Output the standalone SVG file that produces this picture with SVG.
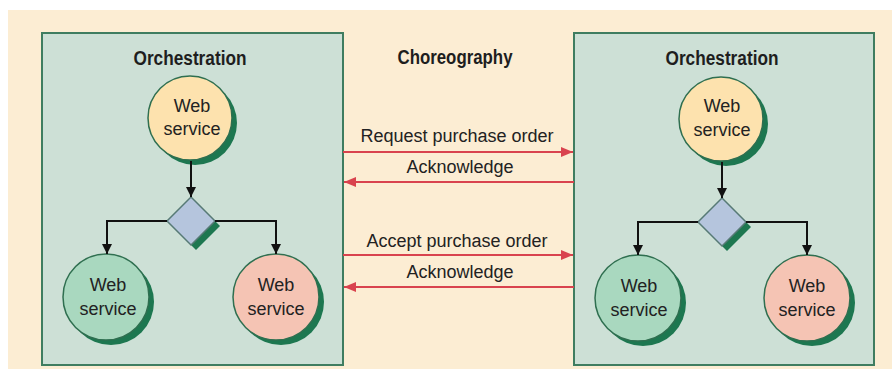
<svg xmlns="http://www.w3.org/2000/svg" width="892" height="372" viewBox="0 0 892 372">
  <defs>
    <marker id="ah" viewBox="0 0 10 10" refX="10" refY="5" markerWidth="10" markerHeight="10" markerUnits="userSpaceOnUse" orient="auto">
      <path d="M0,0 L10,5 L0,10 z" fill="#111"/>
    </marker>
    <marker id="rh" viewBox="0 0 12 10" refX="12" refY="5" markerWidth="12" markerHeight="10" markerUnits="userSpaceOnUse" orient="auto">
      <path d="M0,0 L12,5 L0,10 z" fill="#d9434e"/>
    </marker>
  </defs>
  <style>
    .bg { fill: #fcedd3; }
    .box { fill: #cde0d6; stroke: #3f7d60; stroke-width: 2; }
    .title { font-family: "Liberation Sans", Arial, sans-serif; font-weight: bold; font-size: 20px; fill: #1e1e1e; text-anchor: middle; }
    .lbl { font-family: "Liberation Sans", Arial, sans-serif; font-size: 18px; fill: #222; text-anchor: middle; }
    .shadow { fill: #1d7750; }
    .ring { stroke: #2f6f50; stroke-width: 1.5; }
    .yel { fill: #fde2ae; }
    .grn { fill: #a9d8bf; }
    .pnk { fill: #f5c4b4; }
    .dia { fill: #b5c5dd; stroke: #577a76; stroke-width: 1.5; }
    .blk { fill: none; stroke: #111; stroke-width: 2; }
    .red { fill: none; stroke: #d9434e; stroke-width: 2.2; }
  </style>

  <rect class="bg" x="8" y="10" width="884" height="359"/>

  <g id="left-box">
    <rect class="box" x="42" y="33" width="301" height="332"/>
    <text class="title" x="190" y="65" textLength="113" lengthAdjust="spacingAndGlyphs">Orchestration</text>
  </g>
  <g id="right-box">
    <rect class="box" x="574" y="33" width="300" height="332"/>
    <text class="title" x="722" y="65" textLength="113" lengthAdjust="spacingAndGlyphs">Orchestration</text>
  </g>

  <text class="title" x="455" y="64" textLength="115" lengthAdjust="spacingAndGlyphs">Choreography</text>

  <!-- Left orchestration nodes -->
  <g id="l-ws-top">
    <circle class="shadow" cx="195" cy="123" r="42"/>
    <circle class="yel ring" cx="190" cy="118" r="42"/>
    <text class="lbl" x="192" y="112">Web</text>
    <text class="lbl" x="192" y="135">service</text>
  </g>
  <g id="l-decision">
    <path class="shadow" d="M196,202 L220,226 L196,250 L172,226 z"/>
    <path class="dia" d="M191,197 L215,221 L191,245 L167,221 z"/>
  </g>
  <g id="l-ws-left">
    <circle class="shadow" cx="111" cy="302" r="43"/>
    <circle class="grn ring" cx="106" cy="297" r="43"/>
    <text class="lbl" x="108" y="291">Web</text>
    <text class="lbl" x="108" y="315">service</text>
  </g>
  <g id="l-ws-right">
    <circle class="shadow" cx="281" cy="302" r="43"/>
    <circle class="pnk ring" cx="276" cy="297" r="43"/>
    <text class="lbl" x="276" y="291">Web</text>
    <text class="lbl" x="276" y="315">service</text>
  </g>

  <!-- Right orchestration nodes -->
  <g id="r-ws-top">
    <circle class="shadow" cx="726" cy="124" r="42"/>
    <circle class="yel ring" cx="721" cy="119" r="42"/>
    <text class="lbl" x="722" y="112">Web</text>
    <text class="lbl" x="722" y="136">service</text>
  </g>
  <g id="r-decision">
    <path class="shadow" d="M727,203 L751,227 L727,251 L703,227 z"/>
    <path class="dia" d="M722,198 L746,222 L722,246 L698,222 z"/>
  </g>
  <g id="r-ws-left">
    <circle class="shadow" cx="643" cy="303" r="43"/>
    <circle class="grn ring" cx="638" cy="298" r="43"/>
    <text class="lbl" x="639" y="292">Web</text>
    <text class="lbl" x="639" y="316">service</text>
  </g>
  <g id="r-ws-right">
    <circle class="shadow" cx="812" cy="303" r="43"/>
    <circle class="pnk ring" cx="807" cy="298" r="43"/>
    <text class="lbl" x="807" y="292">Web</text>
    <text class="lbl" x="807" y="316">service</text>
  </g>

  <g id="connectors">
    <path class="blk" d="M191,161 L191,197" marker-end="url(#ah)"/>
    <path class="blk" d="M167,221 L107,221 L107,254" marker-end="url(#ah)"/>
    <path class="blk" d="M215,221 L276,221 L276,254" marker-end="url(#ah)"/>
    <path class="blk" d="M722,162 L722,198" marker-end="url(#ah)"/>
    <path class="blk" d="M698,222 L638,222 L638,255" marker-end="url(#ah)"/>
    <path class="blk" d="M746,222 L807,222 L807,255" marker-end="url(#ah)"/>

    <path class="red" d="M343,152 L573,152" marker-end="url(#rh)"/>
    <path class="red" d="M574,182 L344,182" marker-end="url(#rh)"/>
    <path class="red" d="M343,255 L573,255" marker-end="url(#rh)"/>
    <path class="red" d="M574,287 L344,287" marker-end="url(#rh)"/>
    <text class="lbl" x="457" y="142">Request purchase order</text>
    <text class="lbl" x="460" y="173">Acknowledge</text>
    <text class="lbl" x="457" y="247">Accept purchase order</text>
    <text class="lbl" x="460" y="278">Acknowledge</text>
  </g>
</svg>
